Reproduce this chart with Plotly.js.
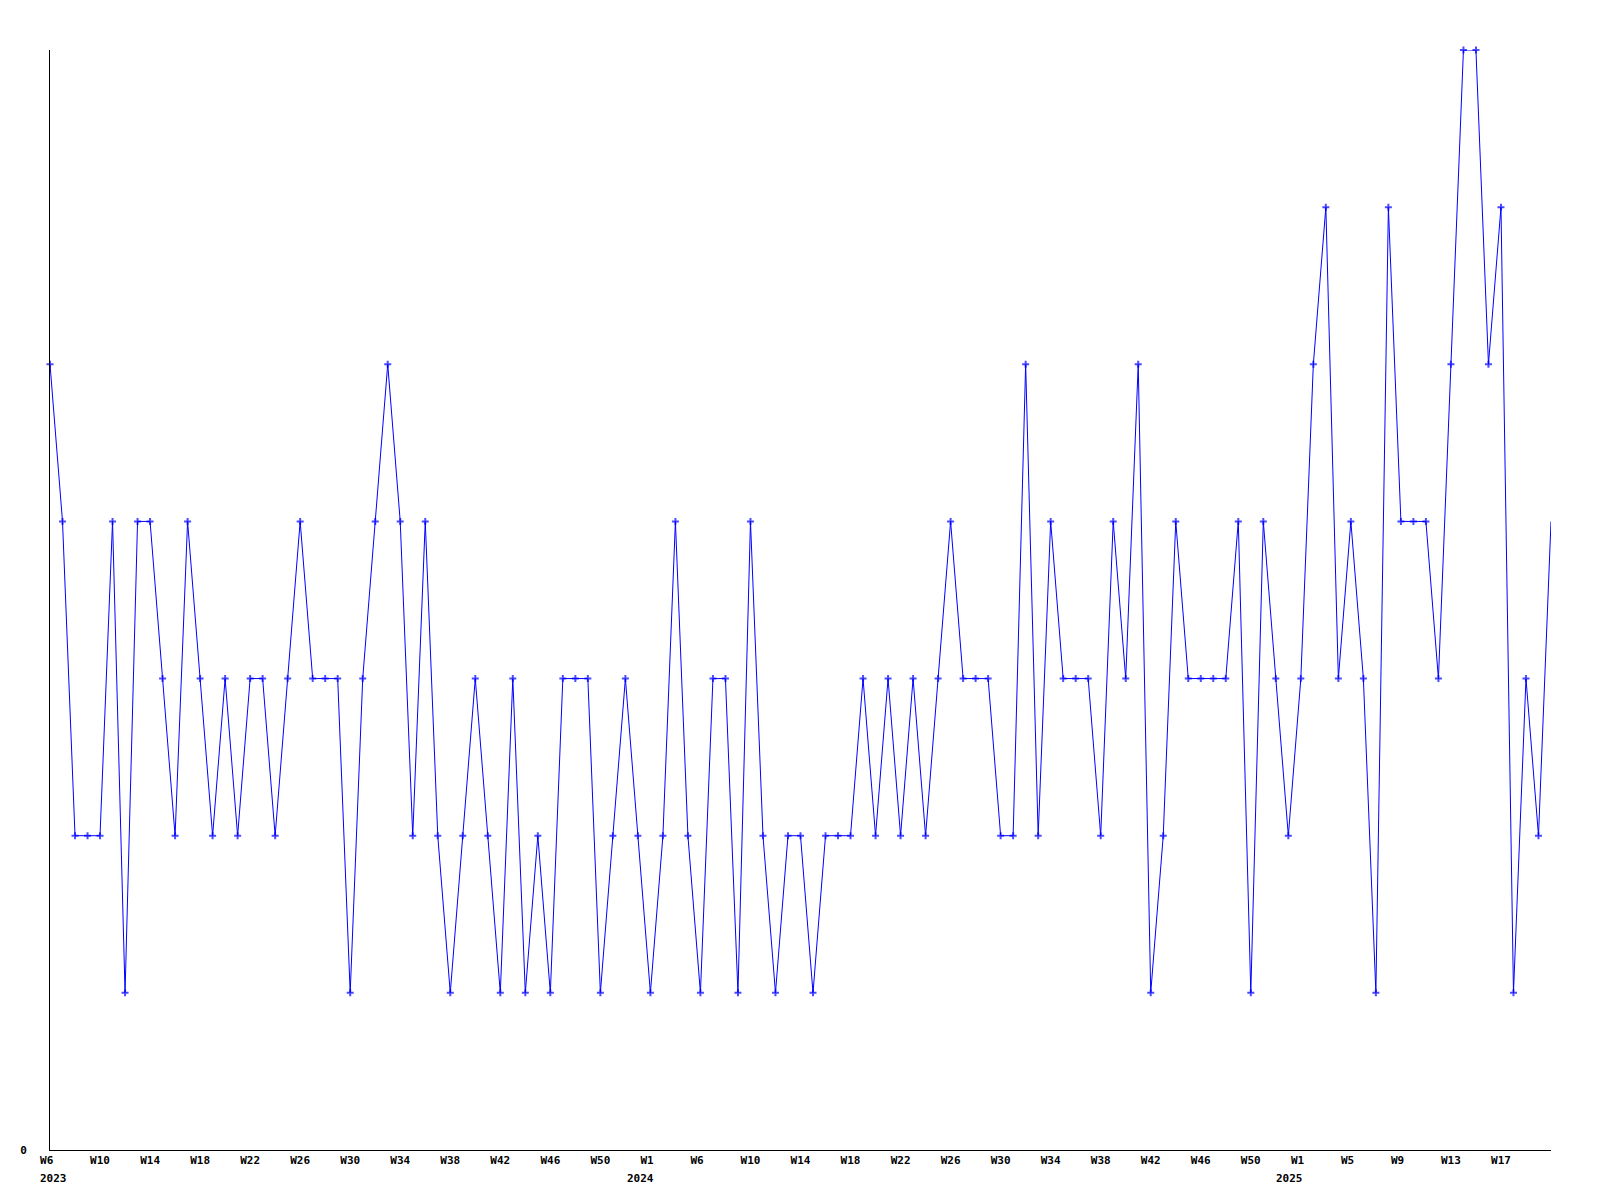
<!DOCTYPE html>
<html>
<head>
<meta charset="utf-8">
<script src="https://cdn.plot.ly/plotly-3.0.1.min.js"></script>
<style>html,body{margin:0;padding:0;background:#fff;}#chart{width:1600px;height:1200px;}</style>
</head>
<body>
<div id="chart"></div>
<script>
// Weekly categories (2023-W06 .. 2025-W22)
var weeks = [
 "2023-W06","2023-W07","2023-W08","2023-W09","2023-W10","2023-W11","2023-W12","2023-W13","2023-W14","2023-W15",
 "2023-W16","2023-W17","2023-W18","2023-W19","2023-W20","2023-W21","2023-W22","2023-W23","2023-W24","2023-W25",
 "2023-W26","2023-W27","2023-W28","2023-W29","2023-W30","2023-W31","2023-W32","2023-W33","2023-W34","2023-W35",
 "2023-W36","2023-W37","2023-W38","2023-W39","2023-W40","2023-W41","2023-W42","2023-W43","2023-W44","2023-W45",
 "2023-W46","2023-W47","2023-W48","2023-W49","2023-W50","2023-W51","2023-W52",
 "2024-W01","2024-W02","2024-W03","2024-W04","2024-W05","2024-W06","2024-W07","2024-W08","2024-W09","2024-W10",
 "2024-W11","2024-W12","2024-W13","2024-W14","2024-W15","2024-W16","2024-W17","2024-W18","2024-W19","2024-W20",
 "2024-W21","2024-W22","2024-W23","2024-W24","2024-W25","2024-W26","2024-W27","2024-W28","2024-W29","2024-W30",
 "2024-W31","2024-W32","2024-W33","2024-W34","2024-W35","2024-W36","2024-W37","2024-W38","2024-W39","2024-W40",
 "2024-W41","2024-W42","2024-W43","2024-W44","2024-W45","2024-W46","2024-W47","2024-W48","2024-W49","2024-W50",
 "2024-W51","2024-W52",
 "2025-W01","2025-W02","2025-W03","2025-W04","2025-W05","2025-W06","2025-W07","2025-W08","2025-W09","2025-W10",
 "2025-W11","2025-W12","2025-W13","2025-W14","2025-W15","2025-W16","2025-W17","2025-W18","2025-W19","2025-W20",
 "2025-W21","2025-W22"
];

// Weekly counts
var counts = [
 5,4,2,2,2,4,1,4,4,3,
 2,4,3,2,3,2,3,3,2,3,
 4,3,3,3,1,3,4,5,4,2,
 4,2,1,2,3,2,1,3,1,2,
 1,3,3,3,1,2,3,2,1,2,
 4,2,1,3,3,1,4,2,1,2,
 2,1,2,2,2,3,2,3,2,3,
 2,3,4,3,3,3,2,2,5,2,
 4,3,3,3,2,4,3,5,1,2,
 4,3,3,3,3,4,1,4,3,2,
 3,5,6,3,4,3,1,6,4,4,
 4,3,5,7,7,5,6,1,3,2,
 4
];

// Tick categories and their labels
var tickWeeks = [
 "2023-W06","2023-W10","2023-W14","2023-W18","2023-W22","2023-W26","2023-W30","2023-W34","2023-W38","2023-W42","2023-W46","2023-W50",
 "2024-W02","2024-W06","2024-W10","2024-W14","2024-W18","2024-W22","2024-W26","2024-W30","2024-W34","2024-W38","2024-W42","2024-W46","2024-W50",
 "2025-W02","2025-W06","2025-W10","2025-W14","2025-W18"
];
var tickLabels = [
 "W6","W10","W14","W18","W22","W26","W30","W34","W38","W42","W46","W50",
 "W1","W6","W10","W14","W18","W22","W26","W30","W34","W38","W42","W46","W50",
 "W1","W5","W9","W13","W17"
];
var yearWeeks = ["2023-W06","2024-W02","2025-W02"];
var yearLabels = ["2023","2024","2025"];

var NB = "\u00a0";
var padded = tickLabels.map(function(t){ return t.length < 3 ? t + NB : t; });

var font = {family: "DejaVu Sans Mono, monospace", size: 11, color: "#000000", weight: "bold"};

// no marker drawn on the final (open) week
var markerSizes = counts.map(function(v, i){ return i === counts.length - 1 ? 0 : 5; });

var trace = {
  type: "scatter",
  mode: "lines+markers",
  x: weeks,
  y: counts,
  line: {color: "#0000ff", width: 1},
  marker: {symbol: "cross-thin", size: markerSizes, color: "#0000ff", line: {color: "#0000ff", width: 2}},
  cliponaxis: false,
  hoverinfo: "x+y"
};

var yearShift = [-12, -25, -27];
var annotations = yearWeeks.map(function(w, i){
  return {
    x: w, xref: "x", y: 0, yref: "paper",
    text: yearLabels[i], showarrow: false,
    xanchor: "left", yanchor: "top", xshift: yearShift[i], yshift: -20,
    font: font
  };
});

var layout = {
  width: 1600, height: 1200,
  margin: {l: 50, r: 49, t: 50, b: 50},
  paper_bgcolor: "#ffffff", plot_bgcolor: "#ffffff",
  showlegend: false,
  font: font,
  xaxis: {
    type: "category",
    categoryorder: "array", categoryarray: weeks,
    range: [0, weeks.length - 1],
    tickmode: "array", tickvals: tickWeeks, ticktext: padded,
    showgrid: false, zeroline: false,
    showline: true, linecolor: "#000000", linewidth: 1,
    ticks: "", tickangle: 0, tickfont: font,
    ticklabelstandoff: 0
  },
  yaxis: {
    range: [0, 7],
    tickmode: "array", tickvals: [0], ticktext: ["0"],
    showgrid: false, zeroline: false,
    showline: true, linecolor: "#000000", linewidth: 1,
    ticks: "", tickfont: font,
    ticklabelstandoff: 20
  },
  annotations: annotations
};

Plotly.newPlot("chart", [trace], layout, {displayModeBar: false, staticPlot: true});
</script>
</body>
</html>
